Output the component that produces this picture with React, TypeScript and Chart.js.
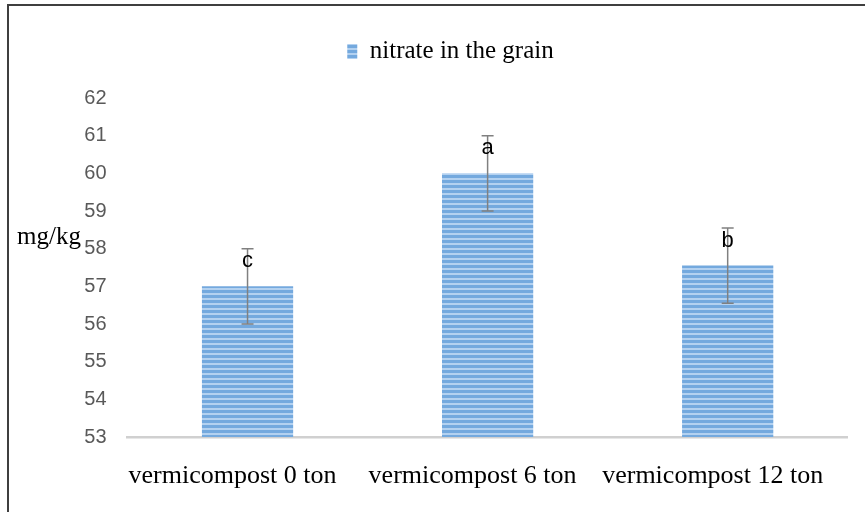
import React, { useEffect, useRef } from "react";
import { Chart, registerables } from "chart.js";

Chart.register(...registerables);

const categories = ["vermicompost 0 ton", "vermicompost 6 ton", "vermicompost 12 ton"];
const seriesLabel = "nitrate in the grain";
const values = [57, 60, 57.55];
const errors = [1, 1, 1];
const letters = ["c", "a", "b"];
const yMin = 53;
const yMax = 62;
const yTitle = "mg/kg";

function makePattern(): CanvasPattern | string {
  const c = document.createElement("canvas");
  c.width = 4;
  c.height = 5;
  const g = c.getContext("2d");
  if (!g) return "#8ab8e6";
  g.fillStyle = "#74a9de";
  g.fillRect(0, 0, 4, 3);
  g.fillStyle = "#b3d1f0";
  g.fillRect(0, 3, 4, 2);
  const p = g.createPattern(c, "repeat");
  return p || "#8ab8e6";
}

const extrasPlugin = {
  id: "extras",
  afterDatasetsDraw(chart: any) {
    const { ctx, scales } = chart;
    const xs = scales.x;
    const ys = scales.y;
    ctx.save();
    values.forEach((v, i) => {
      const x = xs.getPixelForValue(i);
      const yHi = ys.getPixelForValue(v + errors[i]);
      const yLo = ys.getPixelForValue(v - errors[i]);
      ctx.strokeStyle = "#808080";
      ctx.lineWidth = 1.5;
      ctx.beginPath();
      ctx.moveTo(x, yHi);
      ctx.lineTo(x, yLo);
      ctx.moveTo(x - 6, yHi);
      ctx.lineTo(x + 6, yHi);
      ctx.moveTo(x - 6, yLo);
      ctx.lineTo(x + 6, yLo);
      ctx.stroke();
      ctx.fillStyle = "#000";
      ctx.font = "22px 'Liberation Sans', sans-serif";
      ctx.textAlign = "center";
      ctx.textBaseline = "middle";
      ctx.fillText(letters[i], x, ys.getPixelForValue(v) - 25);
    });
    ctx.fillStyle = "#000";
    ctx.font = "25px 'Liberation Serif', serif";
    ctx.textAlign = "left";
    ctx.textBaseline = "alphabetic";
    ctx.fillText(yTitle, 17, 244);
    ctx.fillStyle = "#3f3f3f";
    ctx.fillRect(7, 4, 2, 508);
    ctx.fillRect(7, 4, 858, 2);
    ctx.restore();
  },
};

export default function App() {
  const ref = useRef<HTMLCanvasElement>(null);
  useEffect(() => {
    document.body.style.margin = "0";
    const canvas = ref.current;
    if (!canvas) return;
    const pattern = makePattern();
    const chart = new Chart(canvas, {
      type: "bar",
      data: {
        labels: categories,
        datasets: [
          {
            label: seriesLabel,
            data: values,
            backgroundColor: pattern as any,
            borderWidth: 0,
            barPercentage: 1,
            categoryPercentage: 0.38,
          },
        ],
      },
      options: {
        animation: false,
        responsive: false,
        maintainAspectRatio: false,
        layout: { padding: { top: 29, right: 17, bottom: 0, left: 53 } },
        plugins: {
          tooltip: { enabled: false },
          legend: {
            display: true,
            position: "top",
            labels: {
              boxWidth: 10,
              boxHeight: 15,
              padding: 10,
              color: "#000",
              font: { family: "'Liberation Serif', serif", size: 25 },
            },
          },
          subtitle: {
            display: true,
            text: "",
            position: "top",
            weight: 500,
            font: { size: 10 },
            padding: { top: 6, bottom: 6 },
          } as any,
        },
        scales: {
          x: {
            grid: { display: false, drawTicks: false },
            border: { display: true, color: "#d0d0d0", width: 2.5 },
            ticks: {
              color: "#000",
              padding: 24,
              labelOffset: -15,
              font: { family: "'Liberation Serif', serif", size: 26 },
              maxRotation: 0,
              autoSkip: false,
            },
            afterFit: (s: any) => {
              s.height = 75;
            },
          },
          y: {
            min: yMin,
            max: yMax,
            grid: { display: false, drawTicks: false },
            border: { display: false },
            ticks: {
              stepSize: 1,
              color: "#595959",
              padding: 21,
              font: { family: "'Liberation Sans', sans-serif", size: 20 },
            },
            afterFit: (s: any) => {
              s.width = 74.5;
            },
          },
        },
      },
      plugins: [extrasPlugin],
    });
    return () => chart.destroy();
  }, []);
  return (
    <div style={{ position: "fixed", left: 0, top: 0, width: 865, height: 512, background: "#fff" }}>
      <canvas ref={ref} width={865} height={512} style={{ display: "block" }} />
    </div>
  );
}
